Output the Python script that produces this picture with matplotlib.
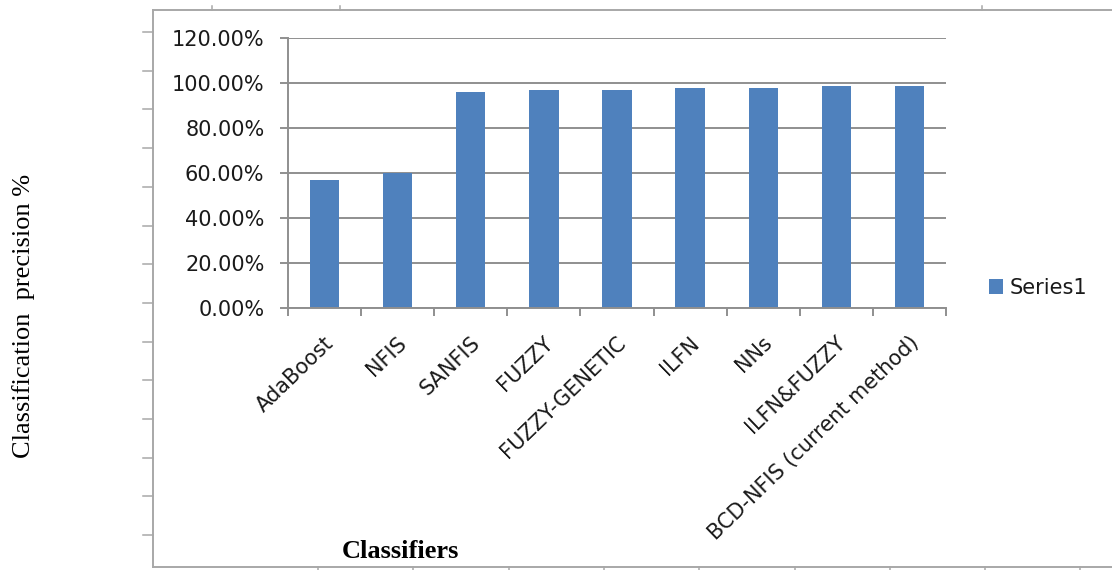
import matplotlib
matplotlib.use("Agg")
import matplotlib.pyplot as plt
from matplotlib.lines import Line2D
from matplotlib.ticker import FuncFormatter, FixedLocator
import matplotlib.transforms as mtransforms
import numpy as np

# Classification precision of each classifier (fraction)
classifiers = ["AdaBoost", "NFIS", "SANFIS", "FUZZY", "FUZZY-GENETIC",
               "ILFN", "NNs", "ILFN&FUZZY", "BCD-NFIS (current method)"]
precision = [0.569, 0.599, 0.962, 0.970, 0.968, 0.978, 0.978, 0.987, 0.987]
series_name = "Series1"
y_ticks = [0.0, 0.2, 0.4, 0.6, 0.8, 1.0, 1.2]

W, H = 1112, 570
fig = plt.figure(figsize=(W / 100, H / 100), dpi=100)


def fx(px):
    return px / W


def fy(py):
    return 1 - py / H


grid_col = "#8f8f8f"
frame_col = "#a8a8a8"
text_col = "#1a1a1a"
bar_col = "#4f81bd"
label_size = 15

# Outer frame with its small tick marks
frame_kw = dict(transform=fig.transFigure, color=frame_col, lw=1.4)
fig.add_artist(Line2D([fx(153), fx(153)], [fy(10), fy(567)], **frame_kw))
fig.add_artist(Line2D([fx(153), fx(W)], [fy(10), fy(10)], **frame_kw))
fig.add_artist(Line2D([fx(153), fx(W)], [fy(567), fy(567)], **frame_kw))
for k in range(14):
    yy = 32 + 38.7 * k
    fig.add_artist(Line2D([fx(143), fx(153)], [fy(yy), fy(yy)],
                          transform=fig.transFigure, color=frame_col, lw=1.1))
for xx in (212, 340, 982):
    fig.add_artist(Line2D([fx(xx), fx(xx)], [fy(6), fy(10)],
                          transform=fig.transFigure, color=frame_col, lw=1.1))
for k in range(9):
    xx = 318 + 95.3 * k
    fig.add_artist(Line2D([fx(xx), fx(xx)], [fy(567), fy(570)],
                          transform=fig.transFigure, color=frame_col, lw=1.1))

# Plot area
ax = fig.add_axes([fx(288), fy(308), fx(946) - fx(288), fy(38) - fy(308)])
x = np.arange(len(classifiers))
ax.bar(x, precision, width=0.4, color=bar_col, label=series_name, zorder=3)

ax.set_xlim(-0.5, len(classifiers) - 0.5)
ax.set_ylim(0, 1.2)
ax.set_yticks(y_ticks)
ax.yaxis.set_major_formatter(FuncFormatter(lambda v, p: f"{v * 100:.2f}%"))
ax.grid(axis="y", color=grid_col, lw=1.4, zorder=0)

for side in ("top", "right"):
    ax.spines[side].set_visible(False)
for side in ("left", "bottom"):
    ax.spines[side].set_color(grid_col)
    ax.spines[side].set_linewidth(1.4)
    ax.spines[side].set_zorder(4)

ax.tick_params(axis="y", direction="out", length=6, width=1.4, color=grid_col,
               pad=11, labelcolor=text_col, labelsize=label_size)
for lab in ax.get_yticklabels():
    lab.set_family("DejaVu Sans")

# Category labels at bar centres, tick marks at category boundaries
ax.set_xticks(x)
ax.set_xticklabels(classifiers, rotation=44, ha="right", va="center",
                   rotation_mode="anchor", fontsize=label_size,
                   family="DejaVu Sans", color=text_col)
ax.tick_params(axis="x", which="major", length=0, pad=23)
shift = mtransforms.ScaledTranslation(6 / 100, 0, fig.dpi_scale_trans)
for lab in ax.get_xticklabels():
    lab.set_transform(lab.get_transform() + shift)
ax.xaxis.set_minor_locator(FixedLocator(np.arange(len(classifiers) + 1) - 0.5))
ax.tick_params(axis="x", which="minor", direction="out", length=6, width=1.4,
               color=grid_col)

ax.legend(loc="center left", bbox_to_anchor=(fx(970), fy(288)),
          bbox_transform=fig.transFigure, frameon=False,
          handlelength=0.7, handleheight=0.7, handletextpad=0.3,
          prop=dict(family="DejaVu Sans", size=label_size), labelcolor=text_col)

fig.text(fx(24), fy(316), "Classification  precision %", rotation=90,
         ha="center", va="center", family="Liberation Serif", size=19,
         color="black")
fig.text(fx(400), fy(552), "Classifiers", ha="center", va="center",
         family="Liberation Serif", weight="bold", size=19, color="black")

fig.savefig("out.png", dpi=100)
